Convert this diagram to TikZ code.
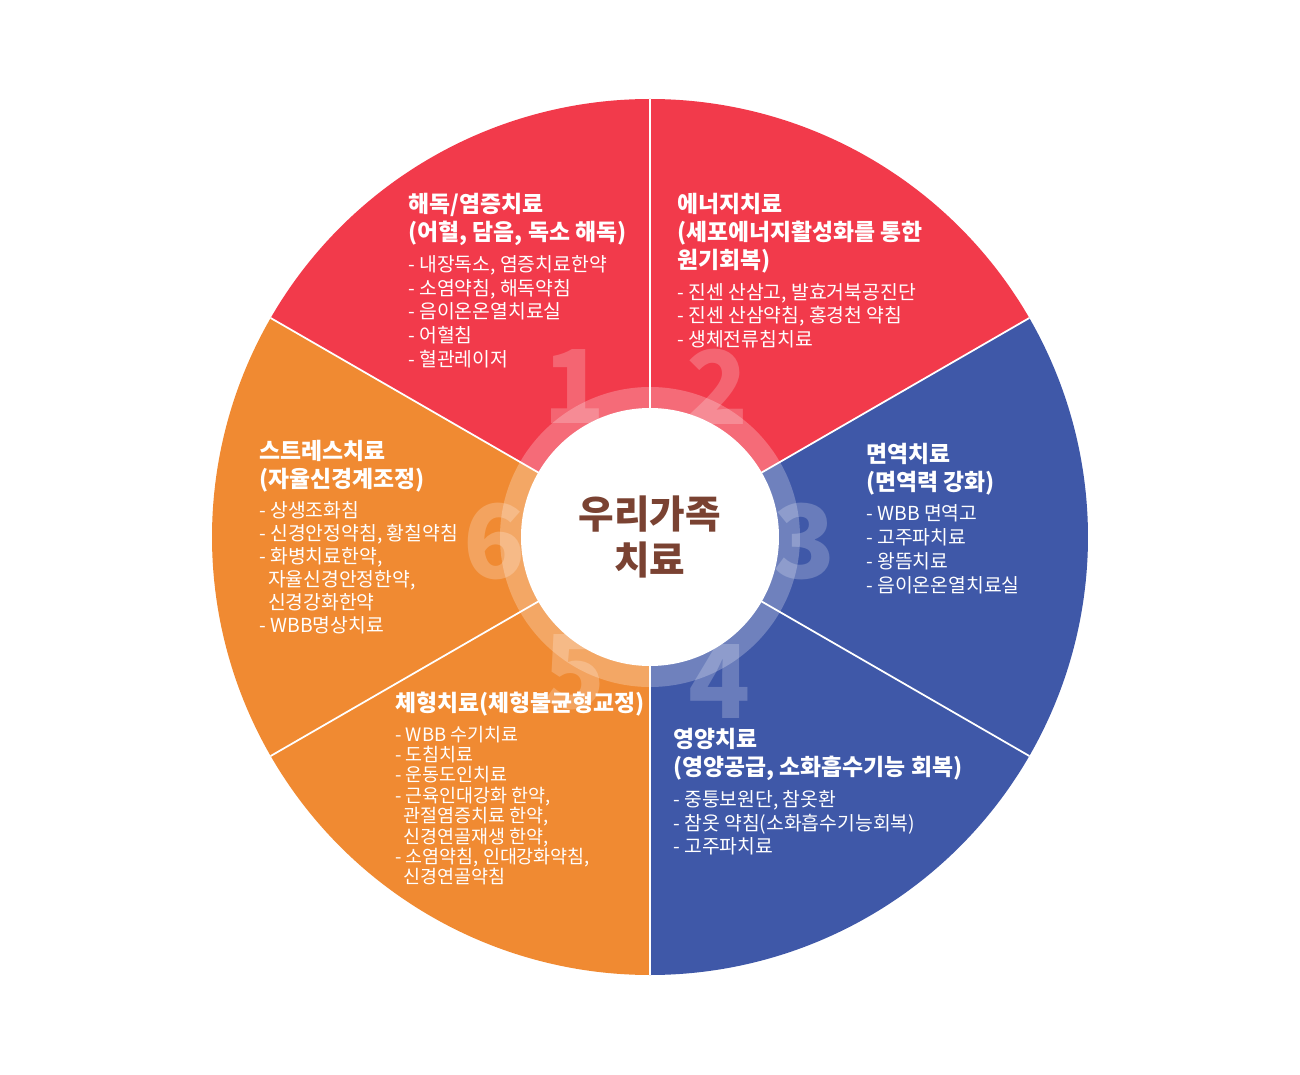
\documentclass[tikz,border=0pt]{standalone}
\usepackage{fontspec}
\setmainfont{Noto Sans CJK KR}
\usetikzlibrary{positioning}
\definecolor{secred}{HTML}{F23A4B}
\definecolor{secblue}{HTML}{3F58A8}
\definecolor{secorange}{HTML}{F08A32}
\definecolor{hubtext}{HTML}{7A4232}
\begin{document}
\begin{tikzpicture}[
    title/.style={anchor=north west, align=left, text=white, font=\fontsize{13}{16}\selectfont\bfseries, inner sep=0pt},
    items/.style={below=5pt of #1.south west, anchor=north west, align=left, text=white, font=\fontsize{11}{13.5}\selectfont, inner sep=0pt},
    bignum/.style={text=white, opacity=0.22, font=\fontsize{58}{58}\selectfont\bfseries}
  ]
    \useasboundingbox (-13,-10.76) rectangle (13,10.74);
    % Sectors
    \fill[secred] (0,0) -- (90:8.76) arc (90:150:8.76) -- cycle;
    \fill[secred] (0,0) -- (30:8.76) arc (30:90:8.76) -- cycle;
    \fill[secblue] (0,0) -- (-30:8.76) arc (-30:30:8.76) -- cycle;
    \fill[secblue] (0,0) -- (-90:8.76) arc (-90:-30:8.76) -- cycle;
    \fill[secorange] (0,0) -- (210:8.76) arc (210:270:8.76) -- cycle;
    \fill[secorange] (0,0) -- (150:8.76) arc (150:210:8.76) -- cycle;
    \foreach \a in {30,90,...,330}
      \draw[white, line width=1pt] (0,0) -- (\a:8.76);
    % Numbers
    \node[bignum] (n1) at (-1.5,3.0) {1};
    \node[bignum] (n2) at (1.36,3.0) {2};
    \node[bignum] (n3) at (3.1,-0.1) {3};
    \node[bignum] (n4) at (1.4,-2.9) {4};
    \node[bignum] (n5) at (-1.5,-2.7) {5};
    \node[bignum] (n6) at (-3.1,-0.1) {6};
    % Hub
    \fill[white, opacity=0.25] (0,0) circle (3.0);
    \fill[white] (0,0) circle (2.58);
    \node[text=hubtext, align=center, font=\fontsize{22}{26}\selectfont\bfseries] (hub) at (0,0) {우리가족\\치료};
    % Texts
    \node[title] (t1) at (-4.84,6.88) {해독/염증치료\\(어혈, 담음, 독소 해독)};
    \node[items=t1] (l1) {- 내장독소, 염증치료한약\\- 소염약침, 해독약침\\- 음이온온열치료실\\- 어혈침\\- 혈관레이저};
    \node[title] (t2) at (0.54,6.88) {에너지치료\\(세포에너지활성화를 통한\\원기회복)};
    \node[items=t2] (l2) {- 진센 산삼고, 발효거북공진단\\- 진센 산삼약침, 홍경천 약침\\- 생체전류침치료};
    \node[title] (t3) at (4.32,1.88) {면역치료\\(면역력 강화)};
    \node[items=t3] (l3) {- WBB 면역고\\- 고주파치료\\- 왕뜸치료\\- 음이온온열치료실};
    \node[title] (t4) at (0.46,-3.82) {영양치료\\(영양공급, 소화흡수기능 회복)};
    \node[items=t4] (l4) {- 중퉁보원단, 참옷환\\- 참옷 약침(소화흡수기능회복)\\- 고주파치료};
    \node[title] (t5) at (-5.1,-3.1) {체형치료(체형불균형교정)};
    \node[items=t5, font=\fontsize{10.5}{11.6}\selectfont] (l5) {- WBB 수기치료\\- 도침치료\\- 운동도인치료\\- 근육인대강화 한약,\\\ \ 관절염증치료 한약,\\\ \ 신경연골재생 한약,\\- 소염약침, 인대강화약침,\\\ \ 신경연골약침};
    \node[title] (t6) at (-7.82,1.94) {스트레스치료\\(자율신경계조정)};
    \node[items=t6, font=\fontsize{11}{13}\selectfont] (l6) {- 상생조화침\\- 신경안정약침, 황칠약침\\- 화병치료한약,\\\ \ 자율신경안정한약,\\\ \ 신경강화한약\\- WBB명상치료};
\end{tikzpicture}
\end{document}
